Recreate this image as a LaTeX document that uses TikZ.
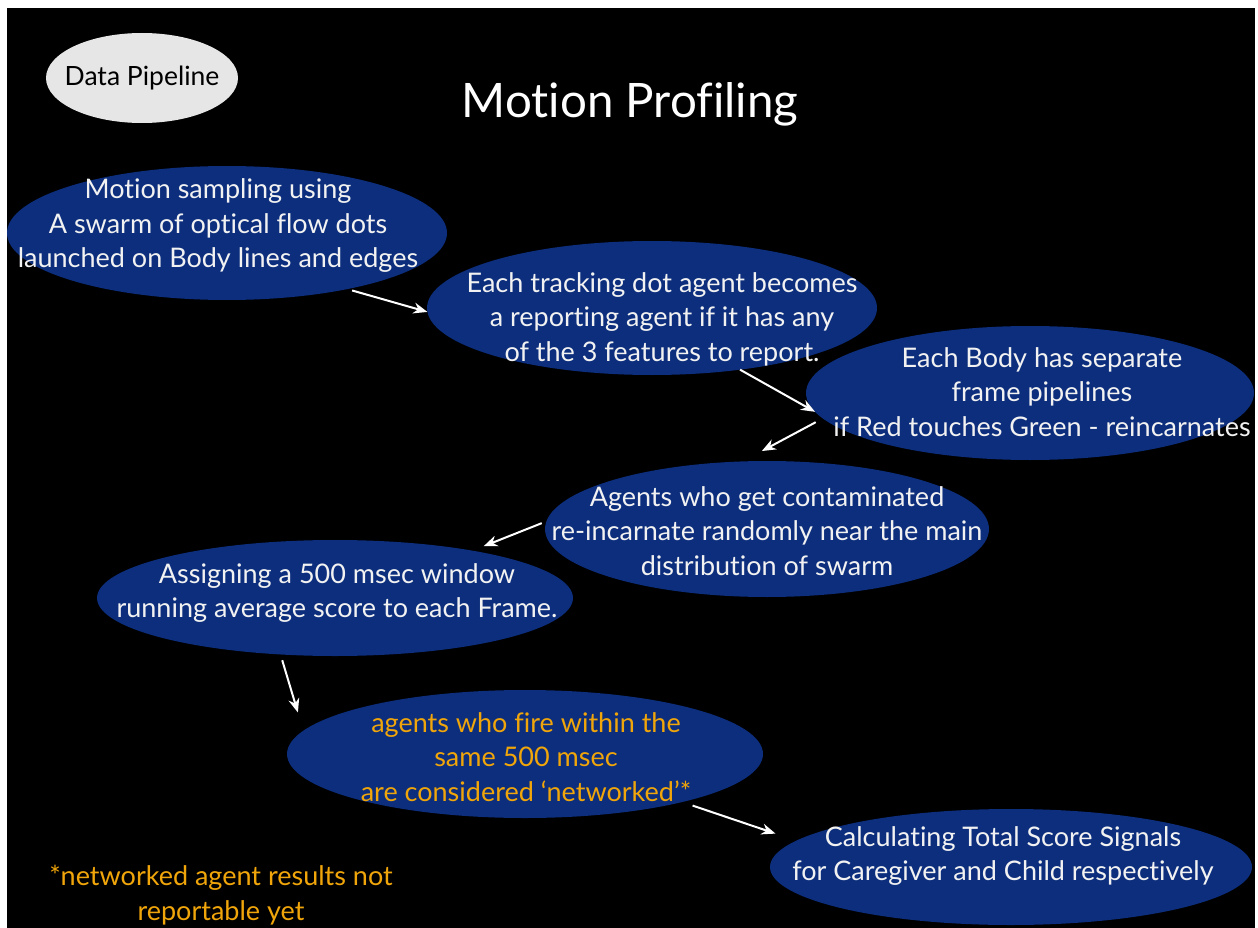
\documentclass[tikz,border=0pt]{standalone}
\usepackage{fontspec}
\setmainfont[Ligatures=NoCommon]{Lato}
\usetikzlibrary{shapes.geometric,arrows.meta}
\definecolor{navy}{RGB}{12,46,124}
\definecolor{ora}{RGB}{240,165,10}
\definecolor{pill}{RGB}{230,230,230}
\definecolor{txt}{RGB}{242,242,242}
\tikzset{
  ell/.style={ellipse, fill=navy, draw=none, inner sep=0pt, outer sep=0pt},
  lbl/.style={text=txt, align=center, inner sep=0pt, font=\fontsize{27}{34.5}\selectfont},
  olbl/.style={lbl, text=ora},
  arr/.style={draw=white, line width=2pt, -{Stealth[length=14pt,width=11pt]}}
}
\begin{document}
\begin{tikzpicture}[x=1pt,y=-1pt]
\useasboundingbox (0,0) rectangle (1258,928);
\fill[white] (0,0) rectangle (1258,928);
\fill[black] (7,8) rectangle (1255,928);
% data pipeline pill
\node[ellipse, fill=pill, inner sep=0pt, minimum width=192pt, minimum height=90pt] (dp) at (142,78) {};
\node[text=black, inner sep=0pt, font=\fontsize{26.5}{30}\selectfont] (dpt) at (142,78) {Data Pipeline};
\node[text=white, inner sep=0pt, font=\fontsize{47.5}{52}\selectfont] (title) at (630,104) {Motion Profiling};
% ellipses
\node[ell, minimum width=440pt, minimum height=134pt] (e1) at (227,233) {};
\node[ell, minimum width=450pt, minimum height=134pt] (e2) at (652,308) {};
\node[ell, minimum width=448pt, minimum height=134pt] (e3) at (1030,393) {};
\node[ell, minimum width=444pt, minimum height=136pt] (e4) at (767,529) {};
\node[ell, minimum width=476pt, minimum height=116pt] (e5) at (335,598) {};
\node[ell, minimum width=476pt, minimum height=128pt] (e6) at (525,754) {};
\node[ell, minimum width=482pt, minimum height=116pt] (e7) at (1011,867) {};
% texts
\node[lbl] (t1) at (218,226) {Motion sampling using\\A swarm of optical flow dots\\launched on Body lines and edges};
\node[lbl] (t2) at (662,319) {Each tracking dot agent becomes\\a reporting agent if it has any\\of the 3 features to report.};
\node[lbl] (t3) at (1042,392) {Each Body has separate\\frame pipelines\\if Red touches Green - reincarnates};
\node[lbl] (t4) at (767,531) {Agents who get contaminated\\re-incarnate randomly near the main\\distribution of swarm};
\node[lbl] (t5) at (337,593) {Assigning a 500 msec window\\running average score to each Frame.};
\node[olbl] (t6) at (526,757) {agents who fire within the\\same 500 msec\\are considered ‘networked’*};
\node[lbl] (t7) at (1003,856) {Calculating Total Score Signals\\for Caregiver and Child respectively};
\node[olbl] (fn) at (221,895) {*networked agent results not\\reportable yet};
% arrows
\draw[arr, shorten <=5pt] (e1.-25) -- (e2.181);
\draw[arr] (e2.-35) -- (e3.185);
\draw[arr, shorten <=8pt, shorten >=22pt] (e3.187) -- (e4.110);
\draw[arr, shorten <=5pt, shorten >=12pt] (e4.178) -- (e5.19);
\draw[arr, shorten <=6pt, shorten >=19pt] (e5.-134) -- (e6.174);
\draw[arr, shorten <=11pt, shorten >=22pt] (e6.-17) -- (e7.173);
\end{tikzpicture}
\end{document}
